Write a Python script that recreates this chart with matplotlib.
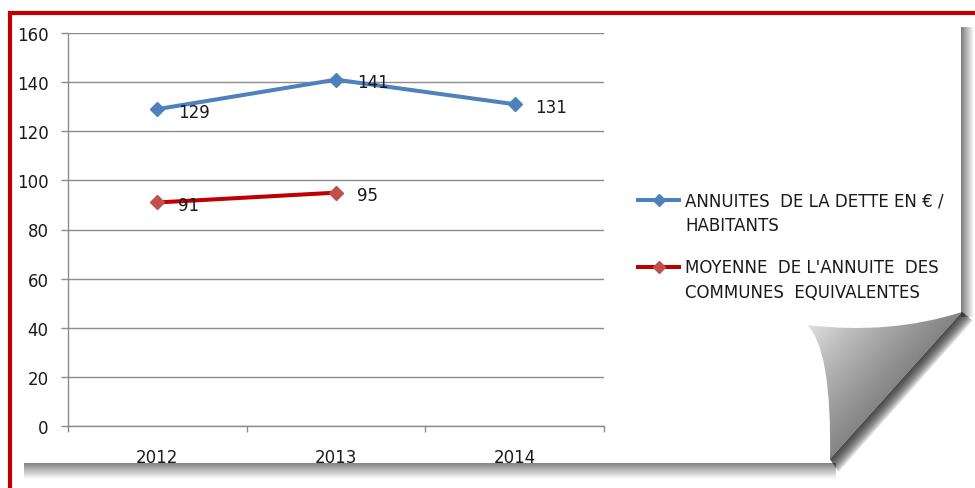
import numpy as np
import matplotlib
matplotlib.use("Agg")
import matplotlib.pyplot as plt
from matplotlib.path import Path
from matplotlib.patches import PathPatch, Polygon

plt.rcParams['font.family'] = ['DejaVu Sans']

# ---- data ----
years = ["2012", "2013", "2014"]
annuites = [129, 141, 131]
moyenne = [91, 95, np.nan]
series_names = ["ANNUITES  DE LA DETTE EN € /\nHABITANTS",
                "MOYENNE  DE L'ANNUITE  DES\nCOMMUNES  EQUIVALENTES"]
y_ticks = [0, 20, 40, 60, 80, 100, 120, 140, 160]

BLUE = "#4F81BD"
RED_LINE = "#C00000"
RED_MARK = "#C0504D"
TXT = "#1a1a1a"
GRID = "#8c8c8c"
FS = 12

W, H = 975, 489
fig = plt.figure(figsize=(W / 100, H / 100), dpi=100)
fig.patch.set_facecolor("white")

# ---- background decoration axes (pixel coordinates) ----
bg = fig.add_axes([0, 0, 1, 1], zorder=0)
bg.set_xlim(0, W)
bg.set_ylim(H, 0)
bg.axis("off")


def shadow_img(ax, x0, x1, y0, y1, horizontal, a0=0.75, a1=0.0, gray=0.35, z=1):
    n = 64
    t = np.linspace(0, 1, n)
    alpha = a0 + (a1 - a0) * t
    if horizontal:
        img = np.zeros((1, n, 4))
        img[0, :, :3] = gray
        img[0, :, 3] = alpha
    else:
        img = np.zeros((n, 1, 4))
        img[:, 0, :3] = gray
        img[:, 0, 3] = alpha
    ax.imshow(img, extent=(x0, x1, y1, y0), aspect="auto", interpolation="bilinear", zorder=z)


# right shadow of page
shadow_img(bg, 961, 974, 28, 318, True, a0=0.8)
# bottom shadow of page
shadow_img(bg, 24, 836, 464, 480, False, a0=0.75)

# shadow behind the curl's edge
for k in range(12):
    d = 1.2 * (k + 1)
    bg.add_patch(Polygon([(962, 313), (962 + d * 0.75, 313 + d * 0.6), (830 + d * 0.6, 460 + d * 0.9),
                          (830, 460)], closed=True, facecolor="#202020", edgecolor="none",
                         alpha=0.12, zorder=2))

# curl (folded corner) with gradient
verts = [(807, 326), (890, 336), (962, 313), (830, 460), (832, 350), (807, 326)]
codes = [Path.MOVETO, Path.CURVE3, Path.CURVE3, Path.LINETO, Path.CURVE3, Path.CURVE3]
curl_path = Path(verts, codes)
curl_patch = PathPatch(curl_path, facecolor="none", edgecolor="none")
bg.add_patch(curl_patch)
xs = np.linspace(800, 970, 200)
ys = np.linspace(305, 470, 200)
XX, YY = np.meshgrid(xs, ys)
tt = ((XX - 807) * 147 + (YY - 326) * 132) / 197.6 / 106.6
tt = np.clip(tt, 0, 1)
light, dark = 0.90, 0.52
val = light + (dark - light) * tt ** 0.8
img = np.dstack([val, val, val, np.ones_like(val)])
im = bg.imshow(img, extent=(800, 970, 470, 305), aspect="auto", interpolation="bilinear", zorder=3)
im.set_clip_path(curl_patch)

# red border (top and left)
bg.plot([8, W], [14, 14], color="#C00000", lw=3.0, solid_capstyle="butt", zorder=4)
bg.plot([10, 10], [12, H], color="#C00000", lw=3.0, solid_capstyle="butt", zorder=4)

# ---- main chart axes ----
ax = fig.add_axes([68 / W, 1 - 427 / H, 536 / W, (427 - 34) / H], zorder=2)
ax.set_facecolor("none")
x = np.arange(len(years))

ax.plot(x, annuites, color=BLUE, lw=2.9, marker="D", markersize=7.5,
        markerfacecolor=BLUE, markeredgecolor=BLUE, zorder=3, clip_on=False)
ax.plot(x, moyenne, color=RED_LINE, lw=2.9, marker="D", markersize=7.5,
        markerfacecolor=RED_MARK, markeredgecolor=RED_MARK, zorder=3, clip_on=False)

for xi, v in zip(x, annuites):
    ax.annotate(f"{v:g}", (xi, v), xytext=(15, -2), textcoords="offset points",
                ha="left", va="center", fontsize=FS, color=TXT)
for xi, v in zip(x, moyenne):
    if np.isfinite(v):
        ax.annotate(f"{v:g}", (xi, v), xytext=(15, -2), textcoords="offset points",
                    ha="left", va="center", fontsize=FS, color=TXT)

ax.set_xlim(-0.5, len(years) - 0.5)
ax.set_ylim(0, 160)
ax.set_yticks(y_ticks)
ax.set_yticklabels([str(t) for t in y_ticks], fontsize=FS, color=TXT)
ax.set_xticks(x)
ax.set_xticklabels(years, fontsize=FS, color=TXT)
ax.set_xticks(np.arange(-0.5, len(years)), minor=True)
ax.tick_params(axis="x", which="major", length=0, pad=16)
ax.tick_params(axis="x", which="minor", length=4.5, width=1, color=GRID)
ax.tick_params(axis="y", length=5, width=1, color=GRID, pad=9)
ax.yaxis.grid(True, color=GRID, lw=1.0)
ax.set_axisbelow(True)
for s in ["top", "right"]:
    ax.spines[s].set_visible(False)
for s in ["left", "bottom"]:
    ax.spines[s].set_color(GRID)
    ax.spines[s].set_linewidth(1.0)

# ---- legend (drawn manually so the sample aligns with the first text line) ----
leg_y = [201, 268]
leg_cols = [(BLUE, BLUE), (RED_LINE, RED_MARK)]
for yy, name, (lc, mc) in zip(leg_y, series_names, leg_cols):
    bg.plot([636, 681], [yy, yy], color=lc, lw=2.9, zorder=5, solid_capstyle="butt")
    bg.plot([658.5], [yy], marker="D", markersize=6.5, color=mc, zorder=6)
    for i, line in enumerate(name.split("\n")):
        bg.text(685, yy + 25 * i, line, fontsize=FS, color=TXT, ha="left",
                va="center", zorder=6)

fig.savefig("out.png", dpi=100)
